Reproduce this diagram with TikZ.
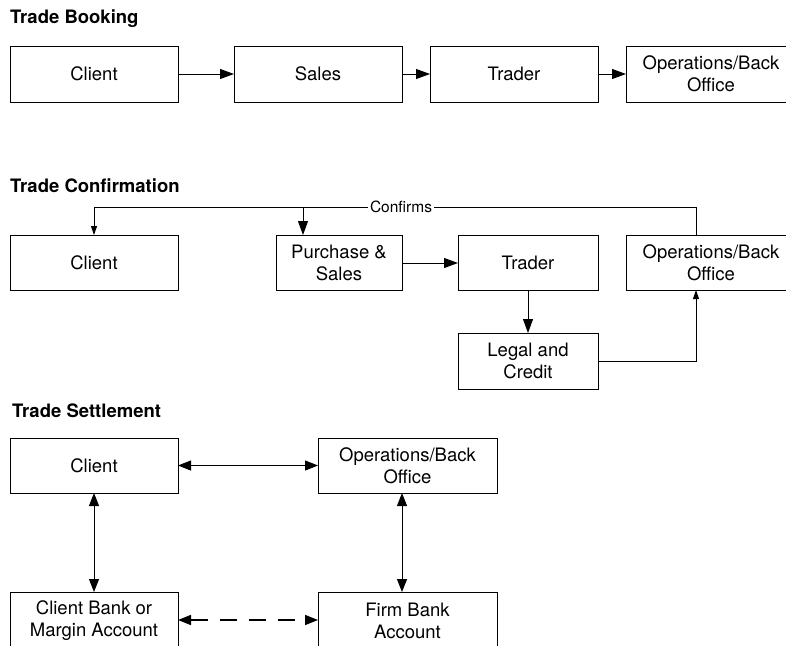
\documentclass[tikz,border=0pt]{standalone}
\usepackage{fontspec}
\setmainfont{TeX Gyre Heros}
\usetikzlibrary{arrows.meta}
\tikzset{
  box/.style={draw, line width=1pt, anchor=north west, inner sep=0pt, outer sep=0pt,
    minimum height=56pt, align=center, font=\fontsize{18.5}{22}\selectfont},
  ttl/.style={anchor=west, inner sep=0pt, font=\fontsize{18.5}{22}\selectfont\bfseries},
  ln/.style={line width=1pt},
  big/.style={ln, -{Triangle[length=14pt,width=10pt]}},
  bigboth/.style={ln, {Triangle[length=13pt,width=10pt]}-{Triangle[length=13pt,width=10pt]}},
  small/.style={ln, -{Triangle[length=9pt,width=6pt]}},
}
\begin{document}
\begin{tikzpicture}[x=1pt,y=-1pt]
\useasboundingbox (0,0) rectangle (786,645);
\clip (0,0) rectangle (786,645);
% Trade Booking
\node[ttl] (t1) at (10,19) {Trade Booking};
\node[box, minimum width=168pt] (c1) at (10,46) {Client};
\node[box, minimum width=168pt] (s1) at (234,46) {Sales};
\node[box, minimum width=168pt] (tr1) at (430,46) {Trader};
\node[box, minimum width=170pt] (o1) at (626,46) {Operations/Back\\Office};
\draw[big] (c1) -- (s1);
\draw[big] (s1) -- (tr1);
\draw[big] (tr1) -- (o1);
% Trade Confirmation
\node[ttl] (t2) at (10,186) {Trade Confirmation};
\node[box, minimum width=168pt, minimum height=55pt] (c2) at (10,235) {Client};
\node[box, minimum width=126pt, minimum height=55pt] (p2) at (276,235) {Purchase \&\\Sales};
\node[box, minimum width=140pt, minimum height=55pt] (tr2) at (458,235) {Trader};
\node[box, minimum width=170pt, minimum height=55pt] (o2) at (626,235) {Operations/Back\\Office};
\node[box, minimum width=140pt, minimum height=56pt] (l2) at (458,333) {Legal and\\Credit};
\node[inner sep=2pt, font=\fontsize{15.5}{18}\selectfont] (cf) at (401,207) {Confirms};
\coordinate (up) at (696,207);
\coordinate (br) at (303,207);
\draw[ln] (up |- o2.north) -- (up) -- (cf.east);
\draw[small] (cf.west) -| (c2.north -| 94,0);
\draw[big] (br) -- (br |- p2.north);
\draw[big] (p2.east |- 0,263) -- (tr2.west |- 0,263);
\draw[big] (tr2) -- (l2);
\draw[small] (l2.east) -| (up |- o2.south);
% Trade Settlement
\node[ttl] (t3) at (12,411) {Trade Settlement};
\node[box, minimum width=168pt, minimum height=55pt] (c3) at (10,438) {Client};
\node[box, minimum width=179pt, minimum height=55pt] (o3) at (318,438) {Operations/Back\\Office};
\node[box, minimum width=168pt, minimum height=58pt] (cb3) at (10,592) {Client Bank or\\Margin Account};
\node[box, minimum width=179pt, minimum height=58pt] (f3) at (318,592) {Firm Bank\\Account};
\draw[bigboth] (c3) -- (o3);
\draw[bigboth] (c3) -- (cb3);
\draw[bigboth] ([xshift=-5.5pt]o3.south) -- ([xshift=-5.5pt]o3.south |- f3.north);
\draw[bigboth, line width=1.6pt, dash pattern=on 17pt off 12pt] (cb3.east |- 0,620) -- (f3.west |- 0,620);
\end{tikzpicture}
\end{document}
